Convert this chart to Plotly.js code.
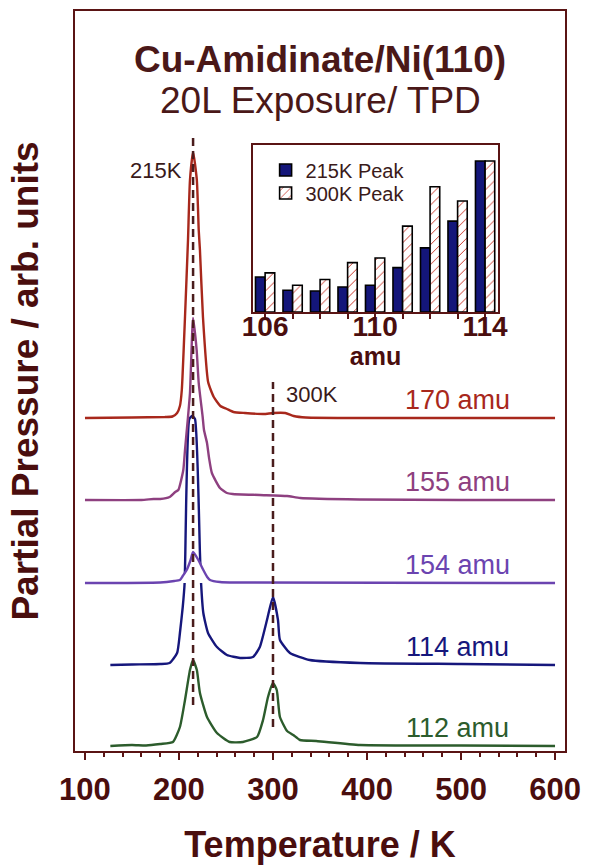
<!DOCTYPE html>
<html>
<head>
<meta charset="utf-8">
<script src="https://cdn.plot.ly/plotly-3.0.1.min.js"></script>
<style>
  html, body { margin: 0; padding: 0; background: #fff; }
  #chart { width: 590px; height: 865px; }
</style>
</head>
<body>
<div id="chart"></div>
<script>
// ---------- DATA ----------
const traceNames = ['170 amu', '155 amu', '154 amu', '114 amu', '112 amu'];
const traceOffsets = [333, 251, 168, 86, 5];

const temps170 = [100,150,185,193,198,201,203,206.4,209.6,211.7,215,219,221,222.3,225.5,231,237,244,251,258,270,290,300,313,322,335,400,500,600];
const sig170   = [0,0.5,1,1.5,5,12,28,101,178,238,266,238,188,168,101,36,21,12,9,6,5,4,5,5,2,0.5,0,0,0];

const temps155 = [100,160,173,180,190,196,199.3,204.6,206.4,209.6,211.7,215,218.8,221,225.2,226.6,229.8,232,235,243.6,251,257,286,315,329,392,500,600];
const sig155   = [0,0,1,1,3,8,10,30,50,83,107,182,150,117,83,70,57,42,27,12,7,6,5,4,2,0.5,0,0];

const temps154 = [100,180,195,201,204,208.2,212,215,220.6,225.9,230,233,243.6,260,600];
const sig154   = [0,0.5,2,3,7,13,22,31,23,13,6,3,1,0.5,0];

const temps114 = [127,150,180,190,198,201,204,206,206.6,211,214,217,222.3,223.5,225.9,230.9,240.4,251,265,278.7,286,293.6,300,305.3,307.4,318,339,392.6,500,600];
const sig114   = [0,0.5,1,2,12,32,58,82,105,246,249,246,112,82,52,32,18,10,7,8,18,45,68,45,25,12,5,2,1,0];

const temps112 = [127,150,165,180,193.6,201,206.4,211.7,215,219,222.3,229.8,240.4,254,268,283,289.4,294.7,300,304,307.4,315,321.6,328.7,346,392.6,500,600];
const sig112   = [0,1,0.5,2,4,19,46,76,86,76,53,29,13,4,4,9,26,49,63,56,29,15,11,6,5,1,0.5,0];

const peakTemps = [215, 300];
const peakLabels = ['215K', '300K'];

// inset
const amuValues = [106,107,108,109,110,111,112,113,114];
const amuTickText = ['106','','','','110','','','','114'];
const peak215 = [23.2,14.4,13.9,16.6,17.7,29.4,42.5,60.2,100];
const peak300 = [25.9,17.7,21.5,32.7,35.8,56.9,83.0,73.5,100];
const insetNames = ['215K Peak', '300K Peak'];

const titleLines = ['Cu-Amidinate/Ni(110)', '20L Exposure/ TPD'];

// ---------- STYLE ----------
const FONT = 'Liberation Sans, Arial, Helvetica, sans-serif';
const AX = '#5a1414';
const TXT = '#4a0e0e';
const TITLE = '#4a1818';
const colors = ['#a8281c', '#8e4080', '#6b44b0', '#16177c', '#2c5c2c'];
const temps = [temps170, temps155, temps154, temps114, temps112];
const sigs = [sig170, sig155, sig154, sig114, sig112];
const LINE = { width: 2.4, shape: 'spline', smoothing: 0.5 };

function shifted(arr, off) { return arr.map(v => v + off); }

const data = [];
// draw order: 112, 114, 154 (with white mask), 155, 170
const order = [4, 3, 2, 1, 0];
order.forEach(i => {
  if (i === 2) {
    data.push({
      type: 'scatter', mode: 'lines', x: temps[i], y: temps[i].map(() => traceOffsets[i]),
      line: { width: 0, color: 'rgba(0,0,0,0)' }, hoverinfo: 'skip', showlegend: false
    });
    data.push({
      type: 'scatter', mode: 'lines', x: temps[i], y: shifted(sigs[i], traceOffsets[i]),
      fill: 'tonexty', fillcolor: '#ffffff',
      line: Object.assign({ color: colors[i] }, LINE), name: traceNames[i], showlegend: false
    });
  } else {
    data.push({
      type: 'scatter', mode: 'lines', x: temps[i], y: shifted(sigs[i], traceOffsets[i]),
      line: Object.assign({ color: colors[i] }, LINE), name: traceNames[i], showlegend: false
    });
  }
});

// dashed peak markers
const dashSpans = [[46, 614], [24, 369]];
peakTemps.forEach((t, k) => {
  data.push({
    type: 'scatter', mode: 'lines', x: [t, t], y: dashSpans[k],
    line: { width: 2.5, color: '#4a1c1c', dash: '8px,5px' }, showlegend: false, hoverinfo: 'skip'
  });
});

// inset bars
data.push({
  type: 'bar', x: amuValues, y: peak215, xaxis: 'x2', yaxis: 'y2', name: insetNames[0], legend: 'legend',
  marker: { color: '#14167a', line: { color: '#000', width: 1.6 } }
});
data.push({
  type: 'bar', x: amuValues, y: peak300, xaxis: 'x2', yaxis: 'y2', name: insetNames[1], legend: 'legend2',
  marker: { color: '#ffffff', line: { color: '#000', width: 1.6 },
    pattern: { shape: '/', fgcolor: '#c8382a', bgcolor: '#ffffff', size: 7, solidity: 0.14 } }
});

const annotations = [];
traceNames.forEach((n, i) => {
  annotations.push({
    xref: 'x', yref: 'y', x: 496, y: traceOffsets[i], yshift: 18,
    text: n, showarrow: false, xanchor: 'center', yanchor: 'middle',
    font: { family: FONT, size: 27, color: colors[i] }
  });
});
annotations.push({
  xref: 'x', yref: 'y', x: peakTemps[0], y: 581, xshift: -9, text: peakLabels[0], showarrow: false,
  xanchor: 'right', yanchor: 'middle', font: { family: FONT, size: 22, color: '#3a1a1a' }
});
annotations.push({
  xref: 'x', yref: 'y', x: peakTemps[1], y: 357, xshift: 11, text: peakLabels[1], showarrow: false,
  xanchor: 'left', yanchor: 'middle', font: { family: FONT, size: 22, color: '#3a1a1a' }
});
// second title line
annotations.push({
  xref: 'paper', yref: 'paper', x: 0.5, y: 0.8797, text: titleLines[1], showarrow: false,
  xanchor: 'center', yanchor: 'middle', font: { family: FONT, size: 37, color: TITLE }
});

const legendBase = {
  xref: 'paper', yref: 'paper', xanchor: 'left', yanchor: 'middle',
  bgcolor: 'rgba(0,0,0,0)', borderwidth: 0, traceorder: 'normal',
  font: { family: FONT, size: 20, color: '#3a1a1a' }
};

const layout = {
  width: 590, height: 865,
  margin: { l: 75, r: 25, t: 11, b: 114 },
  paper_bgcolor: '#ffffff', plot_bgcolor: '#ffffff',
  font: { family: FONT, color: TXT },
  showlegend: true,
  title: {
    text: titleLines[0],
    font: { family: FONT, size: 37, weight: 'bold', color: TITLE },
    x: 0.5, xref: 'paper', xanchor: 'center',
    y: 0.9466, yref: 'container', yanchor: 'top'
  },
  xaxis: {
    domain: [0, 1], range: [89.4, 610.6], tick0: 100, dtick: 100,
    ticks: 'outside', ticklen: 7, tickwidth: 2, tickcolor: AX,
    showline: true, linecolor: AX, linewidth: 2, mirror: true,
    showgrid: false, zeroline: false, automargin: false,
    ticklabelstandoff: 3,
    tickfont: { family: FONT, size: 31, weight: 'bold', color: TXT },
    minor: { dtick: 20, ticks: 'outside', ticklen: 4, tickwidth: 2, tickcolor: AX, showgrid: false },
    title: { text: 'Temperature / K', standoff: 30, font: { family: FONT, size: 36, weight: 'bold', color: TXT } }
  },
  yaxis: {
    domain: [0, 1], range: [0, 740],
    showline: true, linecolor: AX, linewidth: 2, mirror: true,
    ticks: '', showticklabels: false, showgrid: false, zeroline: false, automargin: false,
    title: { text: 'Partial Pressure / arb. units', standoff: 23, font: { family: FONT, size: 37, weight: 'bold', color: TXT } }
  },
  xaxis2: {
    domain: [0.3633, 0.8633], anchor: 'y2', range: [105.56, 114.47],
    tickmode: 'array', tickvals: amuValues, ticktext: amuTickText,
    ticks: 'outside', ticklen: 5, tickwidth: 2, tickcolor: AX,
    showline: true, linecolor: AX, linewidth: 2, mirror: true,
    showgrid: false, zeroline: false, automargin: false,
    ticklabelstandoff: -17,
    tickfont: { family: FONT, size: 28, weight: 'bold', color: TXT },
    title: { text: 'amu', standoff: 3, font: { family: FONT, size: 25, weight: 'bold', color: TXT } }
  },
  yaxis2: {
    domain: [0.5932, 0.8189], anchor: 'x2', range: [0, 110.6],
    showline: true, linecolor: AX, linewidth: 2, mirror: true,
    ticks: '', showticklabels: false, showgrid: false, zeroline: false, automargin: false
  },
  barmode: 'group', bargap: 0.3, bargroupgap: 0,
  legend: Object.assign({ x: 0.389, y: 0.7851 }, legendBase),
  legend2: Object.assign({ x: 0.389, y: 0.7541 }, legendBase),
  annotations: annotations
};

Plotly.newPlot('chart', data, layout, { displayModeBar: false, staticPlot: true });
</script>
</body>
</html>
